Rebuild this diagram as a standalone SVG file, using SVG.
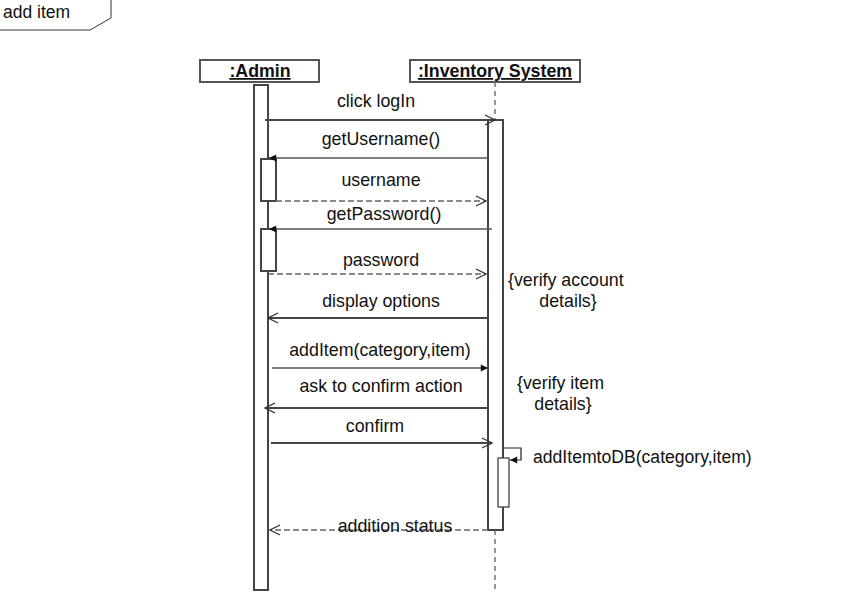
<svg xmlns="http://www.w3.org/2000/svg" width="842" height="610" viewBox="0 0 842 610">
<style>
text{font-family:"Liberation Sans",Arial,sans-serif;font-size:17.8px;fill:#111}
.c{text-anchor:middle}
.hd{font-weight:bold;text-decoration:underline;font-size:17.8px}
.box{fill:#fff;stroke:#555;stroke-width:2}
.act{fill:#fff;stroke:#444;stroke-width:2}
.msg{fill:none;stroke:#444;stroke-width:2}
.thin{fill:none;stroke:#555;stroke-width:1.5}
.ret{fill:none;stroke:#666;stroke-width:1.5;stroke-dasharray:6,3}
.life{stroke:#777;stroke-width:1.5;stroke-dasharray:5,4}
</style>
<defs>
<marker id="open" viewBox="0 0 12 12" refX="11" refY="6" markerWidth="12" markerHeight="12" markerUnits="userSpaceOnUse" orient="auto">
<path d="M1,1 L11,6 L1,11" fill="none" stroke="#333" stroke-width="1.3"/>
</marker>
<marker id="fill" viewBox="0 0 10 10" refX="9" refY="5" markerWidth="9" markerHeight="9" markerUnits="userSpaceOnUse" orient="auto">
<path d="M1,1 L9,5 L1,9 Z" fill="#111"/>
</marker>
</defs>

<g id="frame">
<path d="M0,30 L90,30 L111,18 L111,0" fill="none" stroke="#333" stroke-width="1"/>
<text x="3" y="18" style="font-size:17.5px">add item</text>
</g>

<g id="admin">
<rect class="box" x="200" y="60" width="119" height="22"/>
<text class="c hd" x="260" y="77">:Admin</text>
<rect class="act" x="254" y="85" width="14" height="505"/>
</g>

<g id="inventory">
<rect class="box" x="410" y="60" width="170" height="22"/>
<text class="c hd" x="495" y="77">:Inventory System</text>
<line class="life" x1="495" y1="82" x2="495" y2="120"/>
<line class="life" x1="495" y1="530" x2="495" y2="590"/>
<rect class="act" x="488" y="120" width="15" height="410"/>
</g>

<g id="admin-act1"><rect class="act" x="261" y="159" width="15" height="42"/></g>
<g id="admin-act2"><rect class="act" x="261" y="229" width="15" height="42"/></g>
<g id="inv-act2"><rect x="498" y="458" width="11" height="49" fill="#fff" stroke="#333" stroke-width="1.2"/></g>

<g id="connectors">
<line class="msg" x1="265" y1="120" x2="495" y2="120" marker-end="url(#open)"/>
<line class="thin" x1="488" y1="158" x2="269" y2="158" marker-end="url(#fill)"/>
<line class="ret" x1="276" y1="201" x2="486" y2="201" marker-end="url(#open)"/>
<line class="thin" x1="492" y1="229" x2="269" y2="229" marker-end="url(#fill)"/>
<line class="ret" x1="268" y1="274" x2="486" y2="274" marker-end="url(#open)"/>
<line class="msg" x1="488" y1="318" x2="268" y2="318" marker-end="url(#open)"/>
<line class="thin" x1="272" y1="368" x2="488" y2="368" marker-end="url(#fill)"/>
<line class="msg" x1="488" y1="408" x2="265" y2="408" marker-end="url(#open)"/>
<line class="msg" x1="271" y1="443" x2="492" y2="443" marker-end="url(#open)"/>
<path d="M503,448 L521,448 L521,460 L510,460" fill="none" stroke="#222" stroke-width="1.2" marker-end="url(#fill)"/>
<line class="ret" x1="488" y1="530" x2="270" y2="530" marker-end="url(#open)"/>
</g>

<g id="labels">
<text class="c" x="376" y="107">click logIn</text>
<text class="c" x="381" y="145">getUsername()</text>
<text class="c" x="381" y="186">username</text>
<text class="c" x="384" y="220">getPassword()</text>
<text class="c" x="381" y="266">password</text>
<text class="c" x="381" y="307">display options</text>
<text class="c" x="380" y="356">addItem(category,item)</text>
<text class="c" x="381" y="392">ask to confirm action</text>
<text class="c" x="375" y="432">confirm</text>
<text class="c" x="395" y="532">addition status</text>
<text x="533" y="463" style="font-size:17.6px">addItemtoDB(category,item)</text>
<text x="508" y="286">{verify account</text>
<text class="c" x="568" y="307">details}</text>
<text x="517" y="389">{verify item</text>
<text class="c" x="563" y="410">details}</text>
</g>
</svg>
